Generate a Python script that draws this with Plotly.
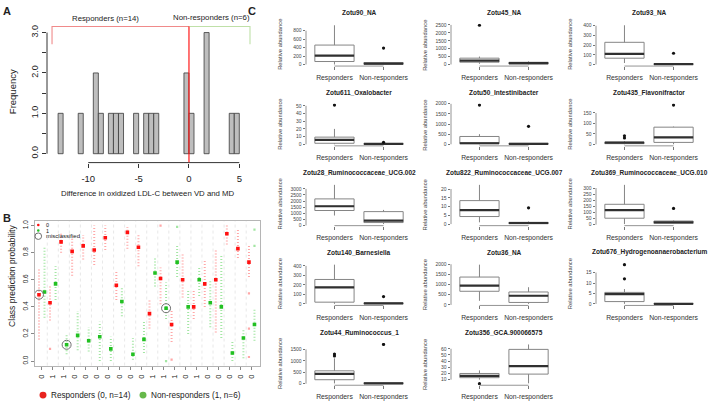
import plotly.graph_objects as go

W, H = 709, 404
FONT = "Liberation Sans, Arial, Helvetica, sans-serif"
TXT = "#222222"

# ---------------- Panel A : histogram of oxLDL-C differences ----------------
hist_bin_left = [-13, -11, -9.5, -9, -8, -7.5, -7, -5.5, -4.5, -4, -3.5, -0.5, 0, 1.5, 4, 4.5]
hist_count = [1, 1, 2, 1, 1, 1, 1, 1, 1, 1, 1, 2, 1, 3, 1, 1]
hist_bin_width = 0.5
a_xticks = [-10, -5, 0, 5]
a_xticklabels = ["-10", "-5", "0", "5"]
a_yticks = [0, 0.5, 1, 1.5, 2, 2.5, 3]
a_yticklabels = ["0.0", "", "1.0", "", "2.0", "", "3.0"]
responder_span = [-13.6, 0.0]
nonresponder_span = [0.0, 6.06]
bracket_level = 3.15
bracket_drop = 2.71
a_group_labels = ["Responders (n=14)", "Non-responders (n=6)"]

# ---------------- Panel B : class prediction probabilities ----------------
b_true_class = [0, 1, 1, 0, 0, 0, 0, 0, 0, 0, 1, 1, 1, 0, 1, 0, 0, 0, 0, 0]
b_red_center = [0.49, 0.43, 0.88, 0.81, 0.85, 0.82, 0.91, 0.56, 0.95, 0.84,
                0.35, 0.61, 0.27, 0.60, 0.40, 0.57, 0.60, 0.94, 0.83, 0.73]
b_red_low = [0.16, 0.30, 0.80, 0.63, 0.75, 0.71, 0.82, 0.45, 0.83, 0.70,
             0.24, 0.42, 0.14, 0.47, 0.31, 0.40, 0.21, 0.86, 0.76, 0.62]
b_red_high = [0.68, 0.55, 0.95, 0.92, 0.93, 1.00, 1.00, 0.67, 0.99, 0.94,
              0.45, 0.69, 0.38, 0.80, 0.52, 0.75, 0.83, 1.00, 0.98, 0.85]
b_green_center = [0.51, 0.57, 0.12, 0.19, 0.15, 0.18, 0.09, 0.44, 0.05, 0.16,
                  0.65, 0.39, 0.73, 0.40, 0.60, 0.43, 0.40, 0.06, 0.17, 0.27]
b_green_low = [0.32, 0.45, 0.05, 0.08, 0.07, 0.00, 0.00, 0.33, 0.01, 0.06,
               0.55, 0.31, 0.62, 0.20, 0.48, 0.25, 0.17, 0.00, 0.02, 0.15]
b_green_high = [0.84, 0.70, 0.20, 0.37, 0.25, 0.29, 0.18, 0.55, 0.17, 0.30,
                0.76, 0.58, 0.86, 0.53, 0.69, 0.60, 0.79, 0.14, 0.24, 0.38]
b_extra_sample = [2, 12, 12, 13, 13, 20, 20, 20, 20, 20]
b_extra_value = [0.09, 1.00, 0.00, 0.01, 0.99, 0.50, 0.24, 0.03, 0.85, 0.97]
b_extra_class = [0, 0, 1, 0, 1, 0, 0, 0, 1, 1]
b_misclassified = [1, 3, 12]
b_yticks = [0, 0.2, 0.4, 0.6, 0.8, 1.0]
b_yticklabels = ["0.0", "0.2", "0.4", "0.6", "0.8", "1.0"]
b_legend_labels = ["Responders (0, n=14)", "Non-responders (1, n=6)"]

# ---------------- Panel C : relative abundance box plots ----------------
c_titles = ["Zotu90_NA", "Zotu45_NA", "Zotu93_NA",
            "Zotu611_Oxalobacter", "Zotu50_Intestinibacter", "Zotu435_Flavonifractor",
            "Zotu28_Ruminococcaceae_UCG.002", "Zotu822_Ruminococcaceae_UCG.007",
            "Zotu369_Ruminococcaceae_UCG.010",
            "Zotu140_Barnesiella", "Zotu36_NA", "Zotu676_Hydrogenoanaerobacterium",
            "Zotu44_Ruminococcus_1", "Zotu356_GCA.900066575"]
c_groups = ["Responders", "Non-responders"]
c_resp_low = [0, 40, 15, 0, 0, 0, 820, 1, 5, 0, 200, 0, 10, 10]
c_resp_q1 = [70, 145, 65, 1.3, 30, 3, 1230, 4.3, 53, 18, 670, 1.1, 173, 13.2]
c_resp_med = [210, 250, 109, 5.8, 50, 8, 1580, 8, 119, 174, 950, 4.7, 433, 16]
c_resp_q3 = [460, 400, 229, 9.3, 385, 10, 2180, 13.4, 167, 257, 1370, 5.5, 563, 20]
c_resp_high = [930, 500, 405, 20, 500, 15, 3330, 22.4, 326, 413, 1980, 7.1, 1110, 25]
c_resp_out = [[], [2480], [], [51], [1935], [30, 41], [], [], [], [], [], [12, 18.8], [1215, 1300], [3.5]]
c_non_low = [0, 0, 0, 0, 0, 0, 120, 0, 5, 0, 50, 0, 0, 4]
c_non_q1 = [5, 30, 0, 0, 5, 9, 245, 0.2, 10, 2, 120, 0, 0, 19]
c_non_med = [20, 80, 3, 0.5, 20, 33, 410, 0.6, 20, 5, 450, 0, 15, 32]
c_non_q3 = [45, 140, 8, 1, 45, 82, 1140, 1, 30, 10, 635, 0.2, 40, 59]
c_non_high = [60, 200, 15, 1.5, 60, 85, 1280, 1.5, 35, 12, 870, 0.3, 60, 67]
c_non_out = [[390], [], [116], [2.5], [885], [188], [], [9.3], [133], [77], [], [], [1720], []]
c_yticks = [[0, 200, 400, 600, 800], [0, 500, 1000, 1500, 2000, 2500], [0, 100, 200, 300, 400],
            [0, 10, 20, 30, 40, 50], [0, 500, 1000, 1500, 2000], [0, 50, 100, 150],
            [0, 500, 1000, 1500, 2000, 2500, 3000], [0, 5, 10, 15, 20],
            [0, 50, 100, 150, 200, 250, 300], [0, 100, 200, 300, 400],
            [0, 500, 1000, 1500, 2000], [0, 5, 10, 15], [0, 500, 1000, 1500],
            [10, 20, 30, 40, 50, 60]]


# ---------------- helpers (pixel layout -> paper) ----------------
def px_x(p):
    return p / W


def px_y(p):
    return 1 - p / H


def dom_x(a, b):
    return [a / W, b / W]


def dom_y(top, bottom):
    return [1 - bottom / H, 1 - top / H]


fig = go.Figure()
layout = dict(width=W, height=H, autosize=False, margin=dict(l=0, r=0, t=0, b=0),
              paper_bgcolor="white", plot_bgcolor="white", showlegend=False,
              font=dict(family=FONT, color=TXT))
shapes = []
ann = []


def text(x, y, s, size, bold=False, angle=0, xanchor="center", color=TXT):
    ann.append(dict(x=px_x(x), y=px_y(y), xref="paper", yref="paper", text=("<b>%s</b>" % s) if bold else s,
                    showarrow=False, font=dict(size=size, family=FONT, color=color),
                    textangle=angle, xanchor=xanchor, yanchor="middle"))


AXC = "#333333"

# ================= Panel A =================
A_XRANGE = [-14.10, 6.26]
A_YRANGE = [-0.22, 3.244]
fig.add_trace(go.Bar(x=[l + hist_bin_width / 2 for l in hist_bin_left], y=hist_count, width=hist_bin_width,
                     marker=dict(color="#bebebe", line=dict(color="#3a3a3a", width=0.8)),
                     xaxis="x", yaxis="y", hoverinfo="skip"))
layout["xaxis"] = dict(domain=dom_x(47, 252), range=A_XRANGE, anchor="y", showgrid=False, zeroline=False,
                       showline=False, tickmode="array", tickvals=a_xticks, ticktext=a_xticklabels,
                       ticks="outside", ticklen=4, tickcolor=AXC, tickfont=dict(size=9.5),
                       ticklabelstandoff=3)
layout["yaxis"] = dict(domain=dom_y(20, 162), range=A_YRANGE, anchor="x", showgrid=False, zeroline=False,
                       showline=False, tickmode="array", tickvals=a_yticks, ticktext=a_yticklabels,
                       tickangle=-90, ticks="outside", ticklen=4, tickcolor=AXC, tickfont=dict(size=9))
shapes.append(dict(type="line", xref="x", yref="y domain", x0=a_xticks[0], x1=a_xticks[-1], y0=0, y1=0,
                   line=dict(color=AXC, width=1)))
shapes.append(dict(type="line", xref="x domain", yref="y", x0=0, x1=0, y0=a_yticks[0], y1=a_yticks[-1],
                   line=dict(color=AXC, width=1)))
shapes.append(dict(type="path", xref="x", yref="y",
                   path="M %f,%f L %f,%f L %f,%f" % (responder_span[0], bracket_drop, responder_span[0],
                                                      bracket_level, responder_span[1], bracket_level),
                   line=dict(color="#f08a8a", width=1.1)))
shapes.append(dict(type="path", xref="x", yref="y",
                   path="M %f,%f L %f,%f L %f,%f" % (nonresponder_span[0], bracket_level, nonresponder_span[1],
                                                      bracket_level, nonresponder_span[1], bracket_drop),
                   line=dict(color="#bfe0a8", width=1.1)))
shapes.append(dict(type="line", xref="x", yref="y", x0=responder_span[1], x1=responder_span[1],
                   y0=A_YRANGE[0], y1=bracket_level, line=dict(color="#ff1a1a", width=1.2)))
text(7, 8, "A", 11, bold=True)
text(105, 16, a_group_labels[0], 7.8)
text(211, 15, a_group_labels[1], 7.8)
text(12.5, 90, "Frequency", 9.5, angle=-90)
text(148, 193, "Difference in oxidized LDL-C between VD and MD", 7.8)

# ================= Panel B =================
B_XRANGE = [0.39, 20.75]
B_YRANGE = [-0.033, 1.036]
n_samples = len(b_true_class)
samples = list(range(1, n_samples + 1))
OFF = 0.25
RED, GREEN = "#ff1010", "#22c022"


def spread_xy(centers_x, lows, highs):
    xs, ys = [], []
    for x, lo, hi in zip(centers_x, lows, highs):
        xs += [x, x, None]
        ys += [lo, hi, None]
    return xs, ys


for cls, col, lite, lows, highs, cent in [
        (0, RED, "rgba(255,60,60,0.45)", b_red_low, b_red_high, b_red_center),
        (1, GREEN, "rgba(50,200,50,0.45)", b_green_low, b_green_high, b_green_center)]:
    off = -OFF if cls == 0 else OFF
    xs, ys = spread_xy([s + off for s in samples], lows, highs)
    fig.add_trace(go.Scatter(x=xs, y=ys, mode="lines", line=dict(color=lite, width=2, dash="1px,2px"),
                             xaxis="x2", yaxis="y2", hoverinfo="skip"))
    ex = [s + off for s, c in zip(b_extra_sample, b_extra_class) if c == cls]
    ey = [v for v, c in zip(b_extra_value, b_extra_class) if c == cls]
    fig.add_trace(go.Scatter(x=ex, y=ey, mode="markers", marker=dict(color=lite, size=2.2, symbol="square"),
                             xaxis="x2", yaxis="y2", hoverinfo="skip"))
    fig.add_trace(go.Scatter(x=[s + off for s in samples], y=cent, mode="markers",
                             marker=dict(color=col, size=3.6, symbol="square"),
                             xaxis="x2", yaxis="y2", hoverinfo="skip"))

mis_x = [m + (-OFF if b_true_class[m - 1] == 0 else OFF) for m in b_misclassified]
mis_y = [b_red_center[m - 1] if b_true_class[m - 1] == 0 else b_green_center[m - 1] for m in b_misclassified]
fig.add_trace(go.Scatter(x=mis_x, y=mis_y, mode="markers",
                         marker=dict(symbol="circle-open", size=9, color="#707070", line=dict(width=1)),
                         xaxis="x2", yaxis="y2", hoverinfo="skip"))
for s in samples[:-1]:
    shapes.append(dict(type="line", xref="x2", yref="y2 domain", x0=s + 0.5, x1=s + 0.5, y0=0, y1=1,
                       line=dict(color="#e2e2e2", width=0.8, dash="dot"), layer="below"))
layout["xaxis2"] = dict(domain=dom_x(35, 260), range=B_XRANGE, anchor="y2", showgrid=False, zeroline=False,
                        showline=True, mirror=True, linecolor="#b5b5b5", linewidth=1,
                        tickmode="array", tickvals=samples, ticktext=[str(c) for c in b_true_class],
                        tickangle=-90, ticks="outside", ticklen=3, tickcolor="#888",
                        tickfont=dict(size=7.5), ticklabelstandoff=2)
layout["yaxis2"] = dict(domain=dom_y(221, 368), range=B_YRANGE, anchor="x2", showgrid=False, zeroline=False,
                        showline=True, mirror=True, linecolor="#b5b5b5", linewidth=1,
                        tickmode="array", tickvals=b_yticks, ticktext=b_yticklabels, tickangle=-90,
                        ticks="outside", ticklen=3, tickcolor="#888", tickfont=dict(size=6.5))
# in-plot key
shapes.append(dict(type="circle", xref="paper", yref="paper", x0=px_x(37), x1=px_x(39.6),
                   y0=px_y(226.6), y1=px_y(224), fillcolor=RED, line=dict(width=0)))
shapes.append(dict(type="circle", xref="paper", yref="paper", x0=px_x(37), x1=px_x(39.6),
                   y0=px_y(232.3), y1=px_y(229.7), fillcolor=GREEN, line=dict(width=0)))
shapes.append(dict(type="circle", xref="paper", yref="paper", x0=px_x(35), x1=px_x(41.6),
                   y0=px_y(240), y1=px_y(233.4), line=dict(color="#707070", width=1)))
text(43.5, 225.3, "0", 5.5, xanchor="left")
text(43.5, 231, "1", 5.5, xanchor="left")
text(43.5, 236.8, "misclassified", 6, xanchor="left")
# bottom key
shapes.append(dict(type="circle", xref="paper", yref="paper", x0=px_x(39.5), x1=px_x(46.5),
                   y0=px_y(401.5), y1=px_y(394.5), fillcolor="#e8231f", line=dict(width=0)))
shapes.append(dict(type="circle", xref="paper", yref="paper", x0=px_x(139.5), x1=px_x(146.5),
                   y0=px_y(401.5), y1=px_y(394.5), fillcolor="#66b84a", line=dict(width=0)))
text(48.5, 398, b_legend_labels[0], 8.2, xanchor="left")
text(148.5, 398, b_legend_labels[1], 8.2, xanchor="left")
text(7, 218, "B", 11, bold=True)
text(12, 277, "Class prediction probability", 8.5, angle=-90)

# ================= Panel C =================
text(252, 8, "C", 11, bold=True)
col_left = [306, 451, 596]
row_top = [21, 102, 183, 264, 345]
PW, PH = 106, 43
BOXW = 0.8
for i, title in enumerate(c_titles):
    r, c = divmod(i, 3)
    n = i + 3
    xa, ya = "x%d" % n, "y%d" % n
    left, top = col_left[c], row_top[r]
    vals = [c_resp_low[i], c_resp_high[i], c_non_low[i], c_non_high[i]] + c_resp_out[i] + c_non_out[i]
    lo, hi = min(vals), max(vals)
    pad = 0.04 * (hi - lo)
    fig.add_trace(go.Box(x=[1, 2], q1=[c_resp_q1[i], c_non_q1[i]], median=[c_resp_med[i], c_non_med[i]],
                         q3=[c_resp_q3[i], c_non_q3[i]], lowerfence=[c_resp_low[i], c_non_low[i]],
                         upperfence=[c_resp_high[i], c_non_high[i]], width=BOXW, whiskerwidth=0,
                         boxpoints=False, fillcolor="white", line=dict(color="#858585", width=1),
                         xaxis=xa, yaxis=ya, hoverinfo="skip"))
    meds = [c_resp_med[i], c_non_med[i]]
    mx, my = [], []
    for g, m in zip([1, 2], meds):
        mx += [g - BOXW / 2, g + BOXW / 2, None]
        my += [m, m, None]
    fig.add_trace(go.Scatter(x=mx, y=my, mode="lines", line=dict(color="#303030", width=2.2),
                             xaxis=xa, yaxis=ya, hoverinfo="skip"))
    ox = [1] * len(c_resp_out[i]) + [2] * len(c_non_out[i])
    oy = c_resp_out[i] + c_non_out[i]
    fig.add_trace(go.Scatter(x=ox, y=oy, mode="markers", marker=dict(color="#111", size=3.2),
                             xaxis=xa, yaxis=ya, hoverinfo="skip"))
    layout["xaxis%d" % n] = dict(domain=dom_x(left, left + PW), range=[0.42, 2.58], anchor=ya,
                                 showgrid=False, zeroline=False, showline=False, tickmode="array",
                                 tickvals=[1, 2], ticktext=c_groups, ticks="outside", ticklen=3,
                                 tickcolor="#777", tickfont=dict(size=6.8, color="#333"), ticklabelstandoff=2)
    layout["yaxis%d" % n] = dict(domain=dom_y(top, top + PH), range=[lo - pad, hi + pad], anchor=xa,
                                 showgrid=False, zeroline=False, showline=False, tickmode="array",
                                 tickvals=c_yticks[i], ticks="outside", ticklen=2.5, tickcolor="#777",
                                 tickfont=dict(size=5, color="#444"))
    shapes.append(dict(type="line", xref=xa, yref=ya + " domain", x0=1, x1=2, y0=0, y1=0,
                       line=dict(color="#888", width=0.9)))
    shapes.append(dict(type="line", xref=xa + " domain", yref=ya, x0=0, x1=0, y0=c_yticks[i][0],
                       y1=c_yticks[i][-1], line=dict(color="#888", width=0.9)))
    text(left + PW / 2, top - 11, title, 6.5, bold=True)
    text(left - 26, top + PH / 2, "Relative abundance", 5.8, angle=-90, color="#444")

layout["shapes"] = shapes
layout["annotations"] = ann
fig.update_layout(**layout)
fig.write_html("out.html", config={"displayModeBar": False},
               post_script="document.body.style.margin='0px';document.body.style.overflow='hidden';")
